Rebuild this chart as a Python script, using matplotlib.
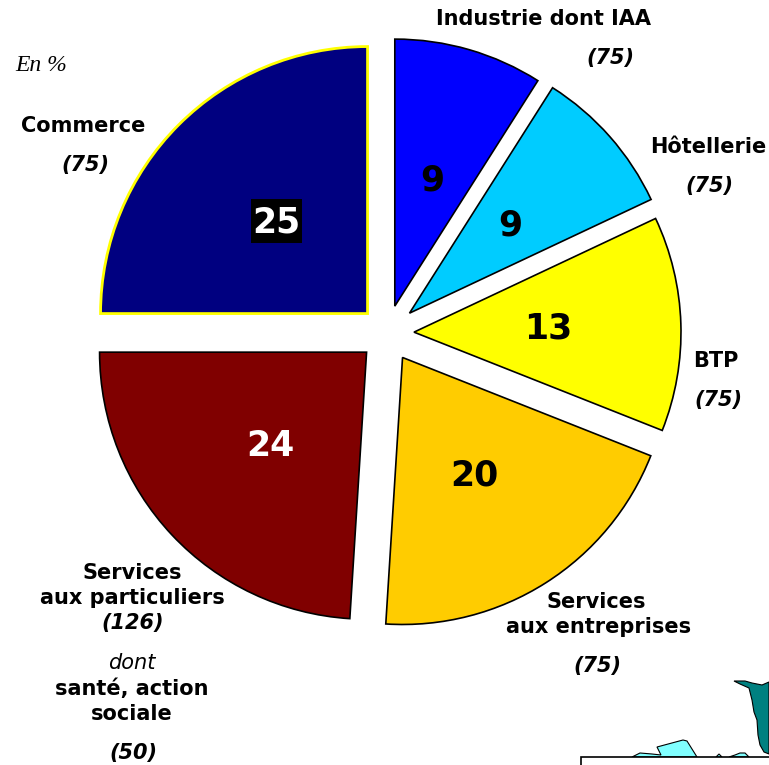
import matplotlib
matplotlib.use('Agg')
import matplotlib.pyplot as plt
from matplotlib.patches import Polygon, Rectangle

W, H = 769, 765

# clockwise from the top
sectors = ['Industrie dont IAA', 'Hôtellerie', 'BTP', 'Services aux entreprises',
           'Services aux particuliers', 'Commerce']
shares = [9, 9, 13, 20, 24, 25]
colors = ['#0000ff', '#00ccff', '#ffff00', '#ffcc00', '#800000', '#000080']
edges = ['black', 'black', 'black', 'black', 'black', '#ffff00']
edge_widths = [1.2, 1.2, 1.2, 1.2, 1.2, 2]
# pie() takes the offset in data units, here pixels
explode = [28, 30, 27, 29, 28, 27.5]
num_colors = ['black', 'black', 'black', 'black', 'white', 'white']
num_pos = [(432, 180), (510, 225), (548, 328), (474, 475), (270, 446), (276, 222)]

fig = plt.figure(figsize=(W / 100, H / 100), dpi=100)
ax = fig.add_axes([0, 0, 1, 1])

wedges, _ = ax.pie(shares, colors=colors, startangle=90, counterclock=False,
                   radius=267, center=(387, H - 333), explode=explode)
for w, e, lw in zip(wedges, edges, edge_widths):
    w.set_edgecolor(e)
    w.set_linewidth(lw)

ax.set_xlim(0, W)
ax.set_ylim(0, H)
ax.set_aspect('equal')
ax.axis('off')


def label(x, y, s, size=15, style='normal', weight='bold', **kw):
    ax.text(x, H - y, s, fontsize=size, style=style, weight=weight,
            ha='center', va='center', color='black', **kw)


for v, c, (x, y) in zip(shares, num_colors, num_pos):
    if v == 25:
        ax.add_patch(Rectangle((251, H - 243), 51, 44, fc='black', ec='none', zorder=3))
    ax.text(x, H - y, str(v), fontsize=25, weight='bold', color=c,
            ha='center', va='center', zorder=4)

ax.text(15, H - 65, 'En %', fontsize=17, style='italic', family='Liberation Serif',
        ha='left', va='center')

label(543, 19, 'Industrie dont IAA')
label(610, 58, '(75)', style='italic')
label(708, 147, 'Hôtellerie')
label(709, 186, '(75)', style='italic')
label(83, 126, 'Commerce')
label(85, 165, '(75)', style='italic')
label(716, 361, 'BTP')
label(718, 400, '(75)', style='italic')
label(596, 602, 'Services')
label(599, 627, 'aux entreprises')
label(597, 666, '(75)', style='italic')
label(132, 573, 'Services')
label(132, 598, 'aux particuliers')
label(133, 623, '(126)', style='italic')
label(132, 663, 'dont', style='italic', weight='normal')
label(132, 689, 'santé, action')
label(132, 714, 'sociale')
label(133, 753, '(50)', style='italic')

# bit of the map inset, cut by the image edge
teal = [(734, 681), (745, 681), (752, 683), (762, 685), (769, 682), (769, 754), (764, 752),
        (760, 745), (758, 735), (757, 720), (754, 712), (752, 700), (749, 688), (740, 684)]
cyan = [[(632, 757), (640, 753), (652, 754), (661, 755), (657, 747), (683, 740), (687, 741), (697, 757)],
        [(716, 757), (719, 754), (722, 757)],
        [(729, 757), (735, 755), (740, 753), (745, 753), (749, 757)]]
ax.add_patch(Polygon([(x, H - y) for x, y in teal], fc='#008080', ec='black', lw=0.8))
for p in cyan:
    ax.add_patch(Polygon([(x, H - y) for x, y in p], fc='#80ffff', ec='black', lw=0.8))
ax.add_patch(Rectangle((581, -5), 200, H - 757 + 5, fc='white', ec='black', lw=1.2))

fig.savefig('out.png', dpi=100)
